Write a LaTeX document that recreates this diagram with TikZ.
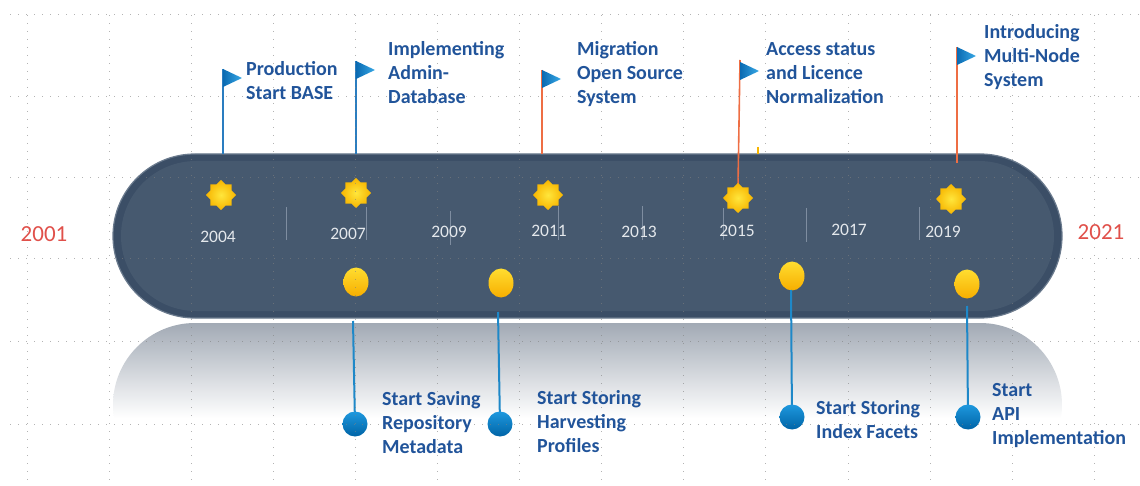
\documentclass[tikz,border=0pt]{standalone}
\usepackage{fontspec}
\setmainfont{Carlito}
\usetikzlibrary{shapes, positioning}
\definecolor{barrim}{HTML}{3B4E66}
\definecolor{barbody}{HTML}{46596F}
\definecolor{baredge}{HTML}{6A7A8D}
\definecolor{refltop}{HTML}{A2AAB5}
\definecolor{labelblue}{RGB}{33,84,154}
\definecolor{yeargray}{HTML}{E4E8EC}
\definecolor{yearred}{HTML}{E0504A}
\definecolor{tickgray}{HTML}{7E8DA0}
\definecolor{poleblue}{HTML}{2A7DC0}
\definecolor{poleorange}{HTML}{EE6E44}
\definecolor{flagdark}{HTML}{0A6AB2}
\definecolor{flaglight}{HTML}{38A9E6}
\definecolor{suncore}{HTML}{FFE63C}
\definecolor{sunrim}{HTML}{F7B500}
\definecolor{beadtop}{HTML}{FFDD30}
\definecolor{beadbottom}{HTML}{F7AE00}
\definecolor{pintop}{HTML}{1E98DE}
\definecolor{pinbottom}{HTML}{0064A6}
\definecolor{stemblue}{HTML}{1E88C8}
\tikzstyle{milestone} = [anchor=west, align=left, inner sep=0pt, text=labelblue, font=\bfseries\fontsize{20}{24}\selectfont]
\tikzstyle{yearlabel} = [inner sep=0pt, text=yeargray, font=\fontsize{17.5}{20}\selectfont]
\tikzstyle{endyear} = [inner sep=0pt, text=yearred, font=\fontsize{23}{26}\selectfont]
\tikzstyle{sun} = [star, star points=8, star point ratio=1.3, minimum size=30pt, inner sep=0pt, inner color=suncore, outer color=sunrim]
\tikzstyle{bead} = [ellipse, minimum width=25pt, minimum height=29pt, inner sep=0pt, top color=beadtop, bottom color=beadbottom]
\tikzstyle{pin} = [circle, minimum size=25pt, inner sep=0pt, top color=pintop, bottom color=pinbottom]
\tikzstyle{pole} = [line width=1.6pt]
\tikzstyle{stem} = [line width=2pt, draw=stemblue]
\tikzstyle{tick} = [draw=tickgray, line width=0.8pt]
\tikzstyle{gridline} = [draw=gray, opacity=.6, line width=1pt, dash pattern=on 1pt off 7pt]
% small pennant, left edge on the pole
\newcommand{\flagat}[2]{\shade[shading angle=60, left color=flagdark, right color=flaglight] (#1,#2) -- ++(19,9) -- ++(-19,9) -- cycle;}

\begin{document}
\begin{tikzpicture}[x=1pt, y=-1pt]
	\useasboundingbox (0,0) rectangle (1140,486);
	% mirror image under the bar
	\begin{scope}
		\clip[rounded corners=81.9pt] (113,323) rectangle (1062,487);
		\shade[top color=refltop, bottom color=white] (113,323) rectangle (1062,418);
	\end{scope}
	% the bar
	\fill[barrim, draw=baredge, line width=1.2pt, rounded corners=81.9pt] (113,154) rectangle (1062,318);
	\fill[barbody, rounded corners=75pt] (121,161) rectangle (1054,311);
	% thin separators
	\foreach \sx/\sa/\sb in {286/207/240, 366/207/240, 450/211/245, 558/206/240, 642/206/240, 723/208/240, 806/208/242, 919/207/240}
		\draw[tick] (\sx,\sa) -- (\sx,\sb);
	\draw[draw=sunrim, line width=1.5pt] (758,147) -- (758,154);
	% poles and flags
	\coordinate (top1) at (223,69);  \coordinate (foot1) at (223,154);
	\coordinate (top2) at (356,61);  \coordinate (foot2) at (356,154);
	\coordinate (top3) at (542,70);  \coordinate (foot3) at (542,154);
	\coordinate (top4) at (740,60);  \coordinate (foot4) at (738,186);
	\coordinate (top5) at (957,47);  \coordinate (foot5) at (957,163);
	\draw[pole, poleblue] (top1) -- (foot1);
	\draw[pole, poleblue] (top2) -- (foot2);
	\foreach \i in {3,4,5}
		\draw[pole, poleorange] (top\i) -- (foot\i);
	\flagat{223}{69}
	\flagat{356}{61}
	\flagat{542}{70}
	\flagat{740}{62}
	\flagat{957}{47}
	% stars on the upper side
	\node[sun] (s2004) at (221,195) {};
	\node[sun] (s2007) at (356,193) {};
	\node[sun] (s2011) at (548,195) {};
	\node[sun] (s2015) at (738,198) {};
	\node[sun] (s2019) at (951,199) {};
	% beads and pins on the lower side
	\coordinate (drop1) at (353,321);
	\coordinate (drop2) at (498,312);
	\coordinate (drop3) at (791,290);
	\coordinate (drop4) at (967,306);
	\node[bead] (b1) at (356,282) {};
	\node[bead] (b2) at (501,283) {};
	\node[bead] (b3) at (792,276) {};
	\node[bead] (b4) at (967,284) {};
	\draw[stem] (drop1) -- (355,424);
	\draw[stem] (drop2) -- (500,424);
	\draw[stem] (drop3) -- (792,417);
	\draw[stem] (drop4) -- (968,417);
	\node[pin] (p1) at (355,424) {};
	\node[pin] (p2) at (500,424) {};
	\node[pin] (p3) at (792,417) {};
	\node[pin] (p4) at (968,417) {};
	% dotted grid
	\foreach \gx in {0,...,13}
		\draw[gridline] ({27+82.1*\gx},15) -- ({27+82.1*\gx},486);
	\foreach \gy in {15,97,178,259,341,424}
		\draw[gridline] (10,\gy) -- (1140,\gy);
	% years
	\node[endyear] (y2001) at (44,234) {2001};
	\node[endyear] (y2021) at (1101,232) {2021};
	\node[yearlabel] (y2004) at (218,237) {2004};
	\node[yearlabel] (y2007) at (348,234) {2007};
	\node[yearlabel] (y2009) at (449,232) {2009};
	\node[yearlabel] (y2011) at (549,231) {2011};
	\node[yearlabel] (y2013) at (639,232) {2013};
	\node[yearlabel] (y2015) at (737,231) {2015};
	\node[yearlabel] (y2017) at (849,230) {2017};
	\node[yearlabel] (y2019) at (943,232) {2019};
	% milestones above
	\node[milestone] (base) at (246,81) {Production\\Start BASE};
	\node[milestone] (admin) at (388,73) {Implementing\\Admin-\\Database};
	\node[milestone] (migration) at (577,74) {Migration\\Open Source\\System};
	\node[milestone] (access) at (766,73) {Access status\\and Licence\\Normalization};
	\node[milestone] (multinode) at (984,57) {Introducing\\Multi-Node\\System};
	% milestones below
	\node[milestone] (repo) at (382,423) {Start Saving\\Repository\\Metadata};
	\node[milestone] (harvest) at (537,422) {Start Storing\\Harvesting\\Profiles};
	\node[milestone] (facets) at (816,420) {Start Storing\\Index Facets};
	\node[milestone] (api) at (992,416) {Start\\API\\Implementation};
\end{tikzpicture}
\end{document}
